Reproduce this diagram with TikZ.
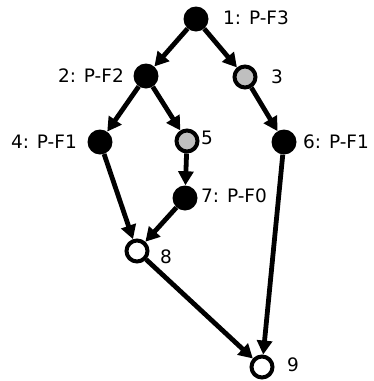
\documentclass[tikz,border=0pt]{standalone}
\usepackage{fontspec}
\setmainfont{DejaVu Sans}
\usetikzlibrary{arrows.meta}
\begin{document}
\begin{tikzpicture}[x=1pt,y=-1pt,
  full/.style={circle,fill=black,minimum size=25pt,inner sep=0pt},
  grey/.style={circle,fill=black!25,draw=black,line width=4pt,minimum size=21pt,inner sep=0pt},
  open/.style={circle,fill=white,draw=black,line width=4pt,minimum size=21pt,inner sep=0pt},
  lab/.style={font=\fontsize{18.5}{20}\selectfont,inner sep=0pt},
  edge/.style={line width=4.8pt,-{Triangle[length=14pt,width=15pt]},shorten >=0pt}]
\useasboundingbox (0,0) rectangle (373,381);
\node[full] (n1) at (196,19) {};
\node[full] (n2) at (146,76) {};
\node[grey] (n3) at (245,77) {};
\node[full] (n4) at (100,142) {};
\node[grey] (n5) at (187,141) {};
\node[full] (n6) at (284,142) {};
\node[full] (n7) at (185,198) {};
\node[open] (n8) at (137,251) {};
\node[open] (n9) at (262,367) {};
\node[lab,anchor=west] (l1) at (223,18) {1: P-F3};
\node[lab,anchor=east] (l2) at (124,76) {2: P-F2};
\node[lab,anchor=west] (l3) at (271,77) {3};
\node[lab,anchor=east] (l4) at (77,142) {4: P-F1};
\node[lab,anchor=west] (l5) at (201,138) {5};
\node[lab,anchor=west] (l6) at (303,142) {6: P-F1};
\node[lab,anchor=west] (l7) at (201,196) {7: P-F0};
\node[lab,anchor=west] (l8) at (160,257) {8};
\node[lab,anchor=west] (l9) at (287,365) {9};
\draw[edge] (n1) -- (n2);
\draw[edge] (n1) -- (n3);
\draw[edge] (n2) -- (n4);
\draw[edge] (n2) -- (n5);
\draw[edge] (n3) -- (n6);
\draw[edge] (n5) -- (n7);
\draw[edge] (n4) -- (n8);
\draw[edge] (n7) -- (n8);
\draw[edge] (n6) -- (n9);
\draw[edge] (n8) -- (n9);
\end{tikzpicture}
\end{document}
